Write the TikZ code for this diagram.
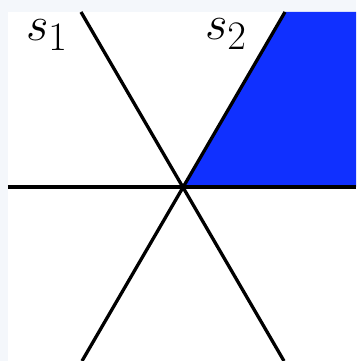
\documentclass[tikz,border=0pt]{standalone}
\usepackage{amsmath, amssymb}
\usepackage{tikz}
\usetikzlibrary{positioning, calc}
\usepackage{xcolor}
\definecolor{sectorblue}{RGB}{16,48,255}
\definecolor{frameback}{RGB}{244,247,251}

\begin{document}
\begin{tikzpicture}[x=1pt, y=1pt,
        ray/.style={line width=3.3pt, black},
        lbl/.style={inner sep=0pt, font=\Huge, scale=1.95}]
        % canvas
        \fill[frameback] (-183,-174) rectangle (173,187);
        \fill[white] (-175,-174) rectangle (173,175);
        \useasboundingbox (-183,-174) rectangle (173,187);
        \coordinate (o) at (0,0);
        \coordinate (l) at (-175,0);
        \coordinate (r) at (173,0);
        \coordinate (s1top) at (-102,175);
        \coordinate (s1bot) at (101,-174);
        \coordinate (s2top) at (102,175);
        \coordinate (s2bot) at (-101,-174);
        % the sector
        \fill[sectorblue] (o) -- (s2top) -- (173,175) -- (r) -- cycle;
        \draw[ray] (l) -- (r);
        \draw[ray] (s1top) -- (s1bot);
        \draw[ray] (s2top) -- (s2bot);
        \node[lbl] (s1) at (-136,152) {$s_1$};
        \node[lbl] (s2) at (43,153) {$s_2$};
    \end{tikzpicture}
\end{document}
